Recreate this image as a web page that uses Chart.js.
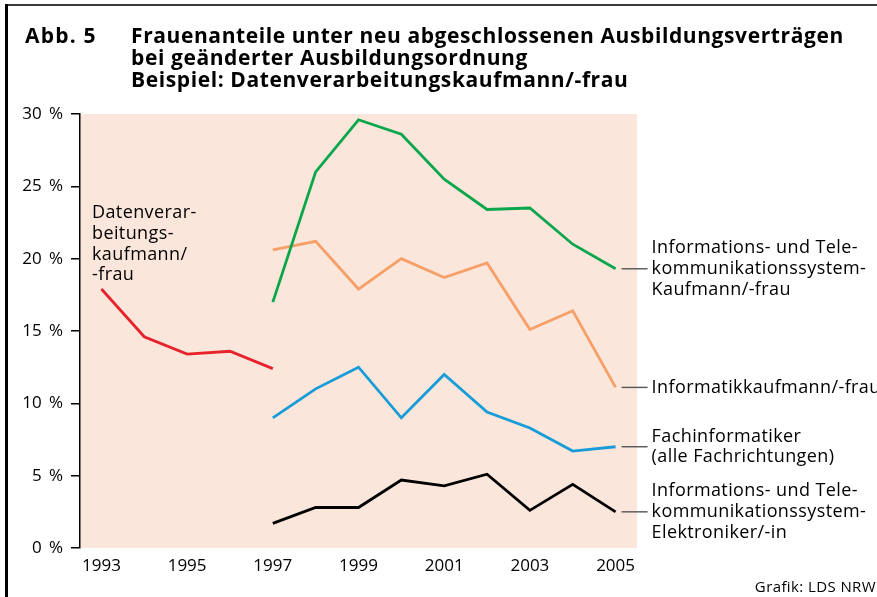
<!DOCTYPE html>
<html lang="de">
<head>
<meta charset="utf-8">
<title>Abb. 5 Frauenanteile unter neu abgeschlossenen Ausbildungsverträgen</title>
<script src="https://cdn.jsdelivr.net/npm/chart.js@4.4.1/dist/chart.umd.min.js"></script>
<style>
  html, body { margin: 0; padding: 0; background: #fff; }
  body { width: 877px; height: 597px; position: relative; overflow: hidden; font-family: "Open Sans", sans-serif; color: #000; }
  #frameTop { position: absolute; left: 5px; top: 4px; width: 872px; height: 2px; background: #3a3a3a; }
  #frameLeft { position: absolute; left: 5px; top: 4px; width: 3px; height: 593px; background: #000; }
  .title { position: absolute; top: 24px; font-weight: bold; font-size: 21px; letter-spacing: 0.6px; line-height: 22px; white-space: nowrap; }
  #abb { left: 25px; letter-spacing: 1.2px; }
  #titleText { left: 131px; }
  #source { position: absolute; right: 1px; top: 576px; font-size: 15px; letter-spacing: 0.4px; line-height: 20px; white-space: nowrap; }
  #chartBox { position: absolute; left: 0; top: 0; width: 877px; height: 597px; }
</style>
</head>
<body>
<div id="chartBox"><canvas id="chart"></canvas></div>
<div id="frameTop"></div>
<div id="frameLeft"></div>
<div class="title" id="abb">Abb. 5</div>
<div class="title" id="titleText">Frauenanteile unter neu abgeschlossenen Ausbildungsverträgen<br>bei geänderter Ausbildungsordnung<br>Beispiel: Datenverarbeitungskaufmann/-frau</div>
<div id="source">Grafik: LDS NRW</div>

<script>
// Werte (Frauenanteil in %)
const yearsOld = [1993, 1994, 1995, 1996, 1997]
const yearsNew = [1997, 1998, 1999, 2000, 2001, 2002, 2003, 2004, 2005]

const dvKaufmann = [17.9, 14.6, 13.4, 13.6, 12.4]
const itKaufmann = [17.0, 26.0, 29.6, 28.6, 25.5, 23.4, 23.5, 21.0, 19.3]
const informatikKaufmann = [20.6, 21.2, 17.9, 20.0, 18.7, 19.7, 15.1, 16.4, 11.1]
const fachinformatiker = [9.0, 11.0, 12.5, 9.0, 12.0, 9.4, 8.3, 6.7, 7.0]
const itElektroniker = [1.7, 2.8, 2.8, 4.7, 4.3, 5.1, 2.6, 4.4, 2.5]

const xTickYears = [1993, 1995, 1997, 1999, 2001, 2003, 2005]
const yTicks = [0, 5, 10, 15, 20, 25, 30]

const dvLabel = ["Datenverar-", "beitungs-", "kaufmann/", "-frau"]
const itKaufmannLabel = ["Informations- und Tele-", "kommunikationssystem-", "Kaufmann/-frau"]
const informatikLabel = ["Informatikkaufmann/-frau"]
const fachinfoLabel = ["Fachinformatiker", "(alle Fachrichtungen)"]
const itElektronikerLabel = ["Informations- und Tele-", "kommunikationssystem-", "Elektroniker/-in"]

const FONT = '"Open Sans", sans-serif'

function points(years, values) {
  return years.map((y, i) => ({ x: y, y: values[i] }))
}

function line(label, years, values, color, tag) {
  return {
    label: label,
    data: points(years, values),
    borderColor: color,
    backgroundColor: color,
    borderWidth: 2.8,
    pointRadius: 0,
    tension: 0,
    tag: tag,
  }
}

// Hintergrund der Zeichenfläche
const areaFill = {
  id: "areaFill",
  beforeDraw(chart) {
    const a = chart.chartArea
    const ctx = chart.ctx
    ctx.save()
    ctx.fillStyle = "#fbe6dc"
    ctx.fillRect(a.left, a.top, a.right - a.left, a.bottom - a.top)
    ctx.restore()
  },
}

// Beschriftungen rechts mit Verbindungsstrich, links der DV-Text
const seriesLabels = {
  id: "seriesLabels",
  afterDatasetsDraw(chart, args, opts) {
    const ctx = chart.ctx
    const yScale = chart.scales.y
    const xScale = chart.scales.x
    ctx.save()
    ctx.font = "18px " + FONT
    if ("letterSpacing" in ctx) ctx.letterSpacing = "0.4px"
    ctx.fillStyle = "#000"
    ctx.textBaseline = "middle"
    ctx.textAlign = "left"

    opts.right.forEach((item) => {
      const ds = chart.data.datasets.find((d) => d.tag === item.tag)
      const last = ds.data[ds.data.length - 1]
      const y = yScale.getPixelForValue(last.y)
      const x0 = xScale.getPixelForValue(last.x)
      ctx.strokeStyle = "#555"
      ctx.lineWidth = 1.4
      ctx.beginPath()
      ctx.moveTo(x0 + 6, y)
      ctx.lineTo(x0 + 32, y)
      ctx.stroke()
      const n = item.lines.length
      item.lines.forEach((t, i) => {
        ctx.fillText(t, x0 + 36, y + (i - (n - 1) / 2) * opts.lineGap)
      })
    })

    const dv = opts.left
    dv.lines.forEach((t, i) => {
      ctx.fillText(t, dv.x, dv.y + i * opts.lineGap)
    })
    ctx.restore()
  },
}

new Chart(document.getElementById("chart"), {
  type: "line",
  data: {
    datasets: [
      line("Datenverarbeitungskaufmann/-frau", yearsOld, dvKaufmann, "#e6232b", "dv"),
      line("IT-System-Kaufmann/-frau", yearsNew, itKaufmann, "#0aa64b", "itk"),
      line("Informatikkaufmann/-frau", yearsNew, informatikKaufmann, "#f6a067", "ik"),
      line("Fachinformatiker", yearsNew, fachinformatiker, "#169cd8", "fi"),
      line("IT-System-Elektroniker/-in", yearsNew, itElektroniker, "#000000", "ite"),
    ],
  },
  options: {
    responsive: true,
    maintainAspectRatio: false,
    animation: false,
    layout: { padding: { top: 114, right: 240, left: 0, bottom: 0 } },
    plugins: {
      legend: { display: false },
      tooltip: { enabled: false },
      seriesLabels: {
        lineGap: 20.7,
        left: { lines: dvLabel, x: 92, y: 213 },
        right: [
          { tag: "itk", lines: itKaufmannLabel },
          { tag: "ik", lines: informatikLabel },
          { tag: "fi", lines: fachinfoLabel },
          { tag: "ite", lines: itElektronikerLabel },
        ],
      },
    },
    scales: {
      x: {
        type: "linear",
        min: 1992.5,
        max: 2005.5,
        afterBuildTicks: (scale) => {
          scale.ticks = xTickYears.map((v) => ({ value: v }))
        },
        afterFit: (scale) => {
          scale.height = 49
        },
        border: { display: false },
        grid: { display: false, drawTicks: false },
        ticks: {
          color: "#000",
          font: { family: FONT, size: 17 },
          padding: 8,
          maxRotation: 0,
          autoSkip: false,
          callback: (v) => String(v),
        },
      },
      y: {
        min: 0,
        max: 30,
        afterBuildTicks: (scale) => {
          scale.ticks = yTicks.map((v) => ({ value: v }))
        },
        afterFit: (scale) => {
          scale.width = 80
        },
        border: { display: true, color: "#000", width: 1.5 },
        grid: { drawOnChartArea: false, drawTicks: true, tickLength: 9, color: "#000", lineWidth: 1.5 },
        ticks: {
          color: "#000",
          font: { family: FONT, size: 17 },
          padding: 8,
          callback: (v) => v + "\u2009 %",
        },
      },
    },
  },
  plugins: [areaFill, seriesLabels],
})
</script>
</body>
</html>
